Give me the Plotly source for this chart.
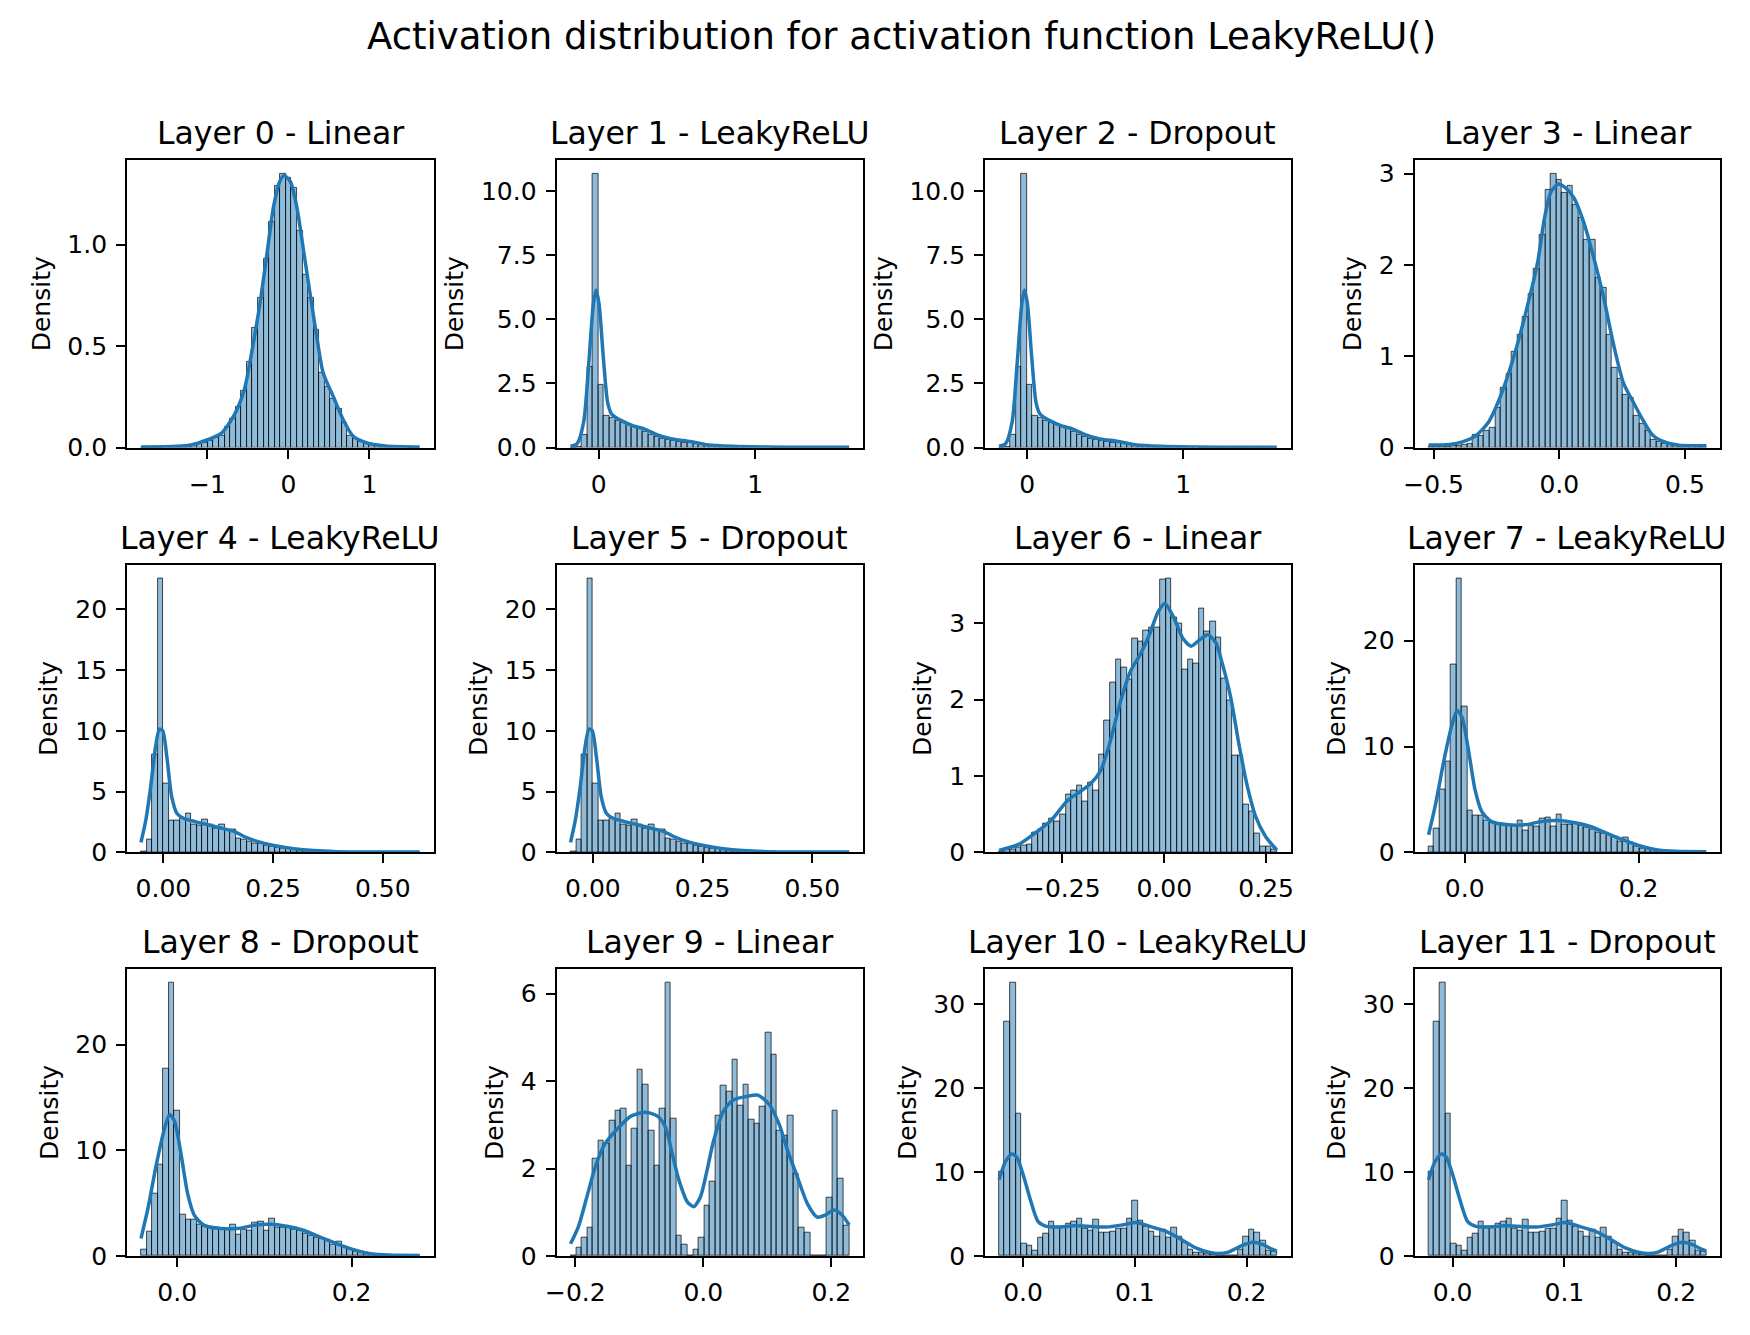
import numpy as np
import plotly.graph_objects as go

# ---------------- data ----------------
suptitle = "Activation distribution for activation function LeakyReLU()"
titles = ["Layer 0 - Linear", "Layer 1 - LeakyReLU", "Layer 2 - Dropout", "Layer 3 - Linear",
          "Layer 4 - LeakyReLU", "Layer 5 - Dropout", "Layer 6 - Linear", "Layer 7 - LeakyReLU",
          "Layer 8 - Dropout", "Layer 9 - Linear", "Layer 10 - LeakyReLU", "Layer 11 - Dropout"]

# Layer 0 - Linear
layer0_range = [-1.82, 1.62]
layer0_bars = [0.0, 0.0, 0.001, 0.001, 0.002, 0.003, 0.004, 0.006, 0.009, 0.013,
               0.02, 0.025, 0.035, 0.05, 0.06, 0.1, 0.14, 0.2, 0.28, 0.42,
               0.59, 0.74, 0.93, 1.11, 1.29, 1.35, 1.33, 1.28, 1.07, 0.85,
               0.74, 0.58, 0.37, 0.30, 0.24, 0.19, 0.12, 0.06, 0.045, 0.03,
               0.02, 0.015, 0.01, 0.008, 0.005, 0.004, 0.003, 0.002, 0.001, 0.001]
layer0_kde_x = [-1.82, -1.24, -0.99, -0.83, -0.67, -0.545, -0.42, -0.34, -0.26, -0.18, -0.1,
                -0.05, 0.024, 0.106, 0.187, 0.268, 0.35, 0.43, 0.553, 0.675, 0.797, 0.96, 1.2, 1.62]
layer0_kde_y = [0.003, 0.01, 0.04, 0.07, 0.16, 0.285, 0.545, 0.74, 0.97, 1.195, 1.317,
                1.34, 1.31, 1.18, 0.97, 0.756, 0.545, 0.366, 0.252, 0.138, 0.057, 0.024, 0.008, 0.003]
layer0_xticks = [-1, 0, 1]
layer0_xtext = ["\u22121", "0", "1"]
layer0_yticks = [0.0, 0.5, 1.0]
layer0_ytext = ["0.0", "0.5", "1.0"]

# Layer 1 - LeakyReLU (Layer 2 - Dropout shows the same values)
layer1_range = [-0.18, 1.60]
layer1_bars = [0.0, 0.02, 0.5, 3.14, 10.67, 2.45, 1.24, 1.14, 1.05, 0.96,
               0.88, 0.83, 0.76, 0.63, 0.50, 0.41, 0.35, 0.29, 0.26, 0.22,
               0.19, 0.18, 0.14, 0.10, 0.08, 0.06, 0.05, 0.04, 0.035, 0.03,
               0.025, 0.02, 0.018, 0.015, 0.012, 0.01, 0.008, 0.007, 0.006, 0.005,
               0.004, 0.004, 0.003, 0.003, 0.002, 0.002, 0.002, 0.001, 0.001, 0.001]
layer1_kde_x = [-0.18, -0.138, -0.096, -0.065, -0.034, -0.017, 0.002, 0.029, 0.057, 0.082,
                0.145, 0.229, 0.29, 0.375, 0.46, 0.585, 0.69, 0.857, 1.067, 1.38, 1.60]
layer1_kde_y = [0.05, 0.15, 1.0, 3.17, 5.6, 6.14, 5.6, 3.55, 1.76, 1.31,
                1.05, 0.83, 0.73, 0.5, 0.35, 0.24, 0.115, 0.05, 0.026, 0.013, 0.01]
layer1_xticks = [0, 1]
layer1_xtext = ["0", "1"]
layer1_yticks = [0.0, 2.5, 5.0, 7.5, 10.0]
layer1_ytext = ["0.0", "2.5", "5.0", "7.5", "10.0"]

# Layer 3 - Linear
layer3_range = [-0.52, 0.585]
layer3_bars = [0.005, 0.005, 0.008, 0.01, 0.015, 0.02, 0.035, 0.045, 0.14, 0.13,
               0.18, 0.22, 0.43, 0.65, 0.81, 1.05, 1.23, 1.43, 1.68, 1.96,
               2.33, 2.82, 3.0, 2.93, 2.79, 2.87, 2.66, 2.52, 2.27, 2.27,
               1.86, 1.75, 1.23, 0.87, 0.75, 0.58, 0.54, 0.35, 0.26, 0.18,
               0.09, 0.065, 0.045, 0.03, 0.02, 0.015, 0.01, 0.008, 0.005, 0.005]
layer3_kde_x = [-0.52, -0.437, -0.385, -0.333, -0.281, -0.228, -0.176, -0.124, -0.085, -0.059,
                -0.033, -0.004, 0.026, 0.059, 0.098, 0.137, 0.176, 0.215, 0.255, 0.294,
                0.333, 0.372, 0.424, 0.476, 0.585]
layer3_kde_y = [0.028, 0.035, 0.063, 0.128, 0.28, 0.604, 1.04, 1.58, 2.045, 2.51,
                2.8, 2.885, 2.84, 2.73, 2.46, 2.08, 1.65, 1.14, 0.71, 0.5,
                0.3, 0.136, 0.056, 0.027, 0.02]
layer3_xticks = [-0.5, 0.0, 0.5]
layer3_xtext = ["\u22120.5", "0.0", "0.5"]
layer3_yticks = [0, 1, 2, 3]
layer3_ytext = ["0", "1", "2", "3"]

# Layer 4 - LeakyReLU (Layer 5 - Dropout shows the same values)
layer4_range = [-0.051, 0.584]
layer4_bars = [0.1, 1.03, 8.04, 22.55, 5.65, 2.58, 2.58, 2.8, 3.15, 2.26,
               2.17, 2.66, 2.31, 1.98, 2.31, 1.79, 1.85, 1.17, 1.03, 0.9,
               0.71, 0.68, 0.54, 0.49, 0.38, 0.33, 0.27, 0.22, 0.16, 0.11,
               0.08, 0.06, 0.05, 0.04, 0.03, 0.025, 0.02, 0.018, 0.015, 0.012,
               0.01, 0.008, 0.007, 0.006, 0.005, 0.004, 0.003, 0.003, 0.002, 0.002]
layer4_kde_x = [-0.051, -0.04, -0.029, -0.018, -0.009, -0.0015, 0.008, 0.019, 0.031, 0.046,
                0.072, 0.102, 0.132, 0.162, 0.184, 0.214, 0.252, 0.297, 0.342, 0.394,
                0.469, 0.584]
layer4_kde_y = [0.82, 2.66, 5.38, 8.64, 10.14, 10.0, 7.83, 4.57, 3.2, 2.8,
                2.53, 2.26, 1.98, 1.71, 1.3, 0.9, 0.57, 0.3, 0.14, 0.054,
                0.027, 0.02]
layer4_xticks = [0.0, 0.25, 0.5]
layer4_xtext = ["0.00", "0.25", "0.50"]
layer4_yticks = [0, 5, 10, 15, 20]
layer4_ytext = ["0", "5", "10", "15", "20"]

# Layer 6 - Linear
layer6_range = [-0.405, 0.276]
layer6_bars = [0.015, 0.03, 0.04, 0.065, 0.09, 0.1, 0.26, 0.3, 0.38, 0.44,
               0.4, 0.5, 0.75, 0.81, 0.875, 0.66, 0.91, 0.81, 1.28, 1.73,
               2.23, 2.52, 2.42, 2.26, 2.8, 2.76, 2.9, 2.95, 2.95, 3.57,
               3.59, 3.08, 3.0, 2.4, 2.52, 2.47, 3.19, 2.89, 3.02, 2.81,
               2.27, 1.99, 1.27, 1.27, 0.63, 0.54, 0.25, 0.07, 0.07, 0.04]
layer6_kde_x = [-0.405, -0.358, -0.317, -0.277, -0.237, -0.208, -0.18, -0.156, -0.132, -0.107,
                -0.083, -0.059, -0.035, -0.015, 0.0016, 0.022, 0.046, 0.066, 0.086, 0.107,
                0.127, 0.143, 0.163, 0.183, 0.204, 0.224, 0.248, 0.276]
layer6_kde_y = [0.026, 0.1, 0.25, 0.42, 0.68, 0.79, 0.9, 1.07, 1.46, 1.98,
                2.37, 2.59, 2.87, 3.15, 3.26, 3.09, 2.8, 2.7, 2.78, 2.85,
                2.74, 2.46, 2.03, 1.42, 0.86, 0.47, 0.21, 0.03]
layer6_xticks = [-0.25, 0.0, 0.25]
layer6_xtext = ["\u22120.25", "0.00", "0.25"]
layer6_yticks = [0, 1, 2, 3]
layer6_ytext = ["0", "1", "2", "3"]

# Layer 7 - LeakyReLU (Layer 8 - Dropout shows the same values)
layer7_range = [-0.0415, 0.278]
layer7_bars = [0.56, 2.28, 5.9, 8.6, 17.7, 25.9, 13.8, 3.9, 3.44, 3.44,
               2.97, 2.8, 2.75, 2.66, 2.5, 2.5, 2.97, 2.03, 2.5, 2.44,
               3.2, 3.28, 2.44, 3.53, 2.66, 2.66, 2.75, 2.5, 2.38, 2.13,
               1.9, 1.75, 1.66, 1.5, 1.03, 1.4, 0.875, 0.56, 0.4, 0.31,
               0.25, 0.16, 0.1, 0.08, 0.05, 0.04, 0.03, 0.02, 0.02, 0.01]
layer7_kde_x = [-0.0415, -0.0333, -0.0238, -0.0144, -0.0087, -0.003, 0.0045, 0.012, 0.0197, 0.031,
                0.05, 0.069, 0.0877, 0.1066, 0.1255, 0.1444, 0.1633, 0.1822, 0.2011, 0.22,
                0.2427, 0.278]
layer7_kde_y = [1.66, 4.6, 8.7, 12.1, 13.4, 12.75, 9.6, 5.9, 3.84, 2.9,
                2.6, 2.6, 2.9, 3.0, 2.81, 2.44, 1.81, 1.19, 0.625, 0.25,
                0.094, 0.06]
layer7_xticks = [0.0, 0.2]
layer7_xtext = ["0.0", "0.2"]
layer7_yticks = [0, 10, 20]
layer7_ytext = ["0", "10", "20"]

# Layer 9 - Linear
layer9_range = [-0.2075, 0.228]
layer9_bars = [0.015, 0.2, 0.43, 0.65, 2.23, 2.64, 2.58, 3.09, 3.32, 3.36,
               2.06, 2.91, 4.26, 3.92, 2.86, 2.06, 3.36, 6.26, 3.14, 0.47,
               0.25, 0.0, 0.135, 0.43, 1.15, 1.71, 3.21, 3.89, 3.77, 4.48,
               3.43, 3.93, 3.11, 3.02, 3.42, 5.12, 4.6, 2.86, 2.76, 3.2,
               1.89, 0.65, 0.54, 0.015, 0.0, 0.0, 1.33, 3.32, 1.78, 0.7]
layer9_kde_x = [-0.2075, -0.195, -0.182, -0.169, -0.154, -0.133, -0.113, -0.09, -0.0715, -0.0587,
                -0.0484, -0.038, -0.025, -0.015, -0.0046, 0.0057, 0.016, 0.0314, 0.0468, 0.0674,
                0.0854, 0.1034, 0.1189, 0.1318, 0.1472, 0.1626, 0.1781, 0.191, 0.2038, 0.2167,
                0.228]
layer9_kde_y = [0.28, 0.68, 1.35, 2.03, 2.56, 2.93, 3.2, 3.29, 3.2, 2.93,
                2.33, 1.73, 1.24, 1.13, 1.35, 1.95, 2.63, 3.31, 3.57, 3.65,
                3.68, 3.46, 3.0, 2.41, 1.8, 1.2, 0.89, 0.94, 1.05, 0.94,
                0.71]
layer9_xticks = [-0.2, 0.0, 0.2]
layer9_xtext = ["\u22120.2", "0.0", "0.2"]
layer9_yticks = [0, 2, 4, 6]
layer9_ytext = ["0", "2", "4", "6"]

# Layer 10 - LeakyReLU (Layer 11 - Dropout shows the same values)
layer10_range = [-0.0215, 0.227]
layer10_bars = [10.1, 27.9, 32.6, 16.9, 1.5, 1.25, 0.59, 2.24, 2.67, 4.1,
                3.53, 3.53, 3.8, 4.1, 4.43, 3.2, 3.06, 4.3, 2.75, 2.75,
                2.94, 3.2, 3.2, 4.43, 6.6, 4.2, 3.53, 2.94, 2.35, 3.14,
                2.24, 3.4, 2.35, 1.57, 0.78, 0.39, 0.39, 0.3, 0.12, 0.08,
                0.08, 0.05, 0.04, 0.7, 2.27, 3.14, 2.75, 1.84, 0.59, 0.47]
layer10_kde_x = [-0.0215, -0.0159, -0.01, -0.0056, 0.0003, 0.0062, 0.0135, 0.0209, 0.0311, 0.0458,
                 0.0605, 0.0752, 0.0899, 0.1016, 0.1134, 0.128, 0.1427, 0.1545, 0.1662, 0.175,
                 0.1838, 0.1956, 0.2059, 0.2147, 0.222, 0.227]
layer10_kde_y = [9.1, 11.2, 12.16, 11.76, 9.6, 6.86, 4.1, 3.53, 3.45, 3.6,
                 3.53, 3.45, 3.73, 4.0, 3.53, 2.94, 1.88, 0.98, 0.47, 0.31,
                 0.47, 1.25, 1.65, 1.37, 0.86, 0.59]
layer10_xticks = [0.0, 0.1, 0.2]
layer10_xtext = ["0.0", "0.1", "0.2"]
layer10_yticks = [0, 10, 20, 30]
layer10_ytext = ["0", "10", "20", "30"]

# ---------------- assembling the panels ----------------
p0 = (layer0_range, layer0_bars, layer0_kde_x, layer0_kde_y, layer0_xticks, layer0_xtext, layer0_yticks, layer0_ytext)
p1 = (layer1_range, layer1_bars, layer1_kde_x, layer1_kde_y, layer1_xticks, layer1_xtext, layer1_yticks, layer1_ytext)
p3 = (layer3_range, layer3_bars, layer3_kde_x, layer3_kde_y, layer3_xticks, layer3_xtext, layer3_yticks, layer3_ytext)
p4 = (layer4_range, layer4_bars, layer4_kde_x, layer4_kde_y, layer4_xticks, layer4_xtext, layer4_yticks, layer4_ytext)
p6 = (layer6_range, layer6_bars, layer6_kde_x, layer6_kde_y, layer6_xticks, layer6_xtext, layer6_yticks, layer6_ytext)
p7 = (layer7_range, layer7_bars, layer7_kde_x, layer7_kde_y, layer7_xticks, layer7_xtext, layer7_yticks, layer7_ytext)
p9 = (layer9_range, layer9_bars, layer9_kde_x, layer9_kde_y, layer9_xticks, layer9_xtext, layer9_yticks, layer9_ytext)
p10 = (layer10_range, layer10_bars, layer10_kde_x, layer10_kde_y, layer10_xticks, layer10_xtext, layer10_yticks, layer10_ytext)
panels = [p0, p1, p1, p3, p4, p4, p6, p7, p7, p9, p10, p10]

# ---------------- layout geometry (pixels) ----------------
W, H = 1750, 1335
col_px = [(117, 426), (550, 859), (982, 1290), (1415, 1723)]
row_px = [(161.7, 452.7), (571.0, 862.0), (979.7, 1270.3)]

FONT = "DejaVu Sans"
BAR_FILL = "rgba(31,119,180,0.5)"
BAR_EDGE = "rgba(0,0,0,0.7)"
KDE_COLOR = "#1f77b4"

fig = go.Figure()
layout = dict(
    width=W, height=H,
    margin=dict(l=0, r=0, t=0, b=0),
    paper_bgcolor="white", plot_bgcolor="white",
    showlegend=False,
    font=dict(family=FONT, size=25, color="black"),
)
annotations = []

for k, (rng, bars, kx, ky, xt, xtt, yt, ytt) in enumerate(panels):
    r, c = divmod(k, 4)
    n = k + 1
    xa = "x" if n == 1 else f"x{n}"
    ya = "y" if n == 1 else f"y{n}"
    lo, hi = rng
    nb = len(bars)
    edges = np.linspace(lo, hi, nb + 1)
    centers = (edges[:-1] + edges[1:]) / 2
    bw = (hi - lo) / nb

    fig.add_trace(go.Bar(x=centers, y=bars, width=bw, xaxis=xa, yaxis=ya,
                         marker=dict(color=BAR_FILL, line=dict(color=BAR_EDGE, width=1)),
                         hoverinfo="skip"))
    fig.add_trace(go.Scatter(x=kx, y=ky, mode="lines", xaxis=xa, yaxis=ya,
                             line=dict(color=KDE_COLOR, width=3.5, shape="spline", smoothing=0.7),
                             hoverinfo="skip"))

    span = hi - lo
    ymax = max(max(bars), max(ky)) * 1.05
    x0, x1 = col_px[c]
    yt0, yb0 = row_px[r]
    axis_common = dict(showline=True, linecolor="black", linewidth=2, mirror=True,
                       ticks="outside", ticklen=9, tickwidth=2, tickcolor="black",
                       showgrid=False, zeroline=False, tickfont=dict(size=25, family=FONT, color="black"),
                       ticklabelstandoff=4)
    layout[f"xaxis{n}"] = dict(axis_common, domain=[x0 / W, x1 / W], anchor=ya,
                               range=[lo - 0.05 * span, hi + 0.05 * span],
                               tickmode="array", tickvals=xt, ticktext=xtt)
    layout[f"yaxis{n}"] = dict(axis_common, domain=[1 - yb0 / H, 1 - yt0 / H], anchor=xa,
                               range=[0, ymax], tickmode="array", tickvals=yt, ticktext=ytt,
                               title=dict(text="Density", font=dict(size=25, family=FONT), standoff=10))
    annotations.append(dict(text=titles[k], x=(x0 + x1) / 2 / W, y=1 - yt0 / H,
                            xref="paper", yref="paper", xanchor="center", yanchor="bottom",
                            yshift=7, showarrow=False, font=dict(size=31.5, family=FONT, color="black")))

annotations.append(dict(text=suptitle, x=898 / W, y=1 - 36.9 / H, xref="paper", yref="paper",
                        xanchor="center", yanchor="middle", showarrow=False,
                        font=dict(size=37, family=FONT, color="black")))
layout["annotations"] = annotations
layout["bargap"] = 0
fig.update_layout(**layout)

fig.write_html("out.html", config={"displayModeBar": False},
               post_script="document.body.style.margin='0px';")
